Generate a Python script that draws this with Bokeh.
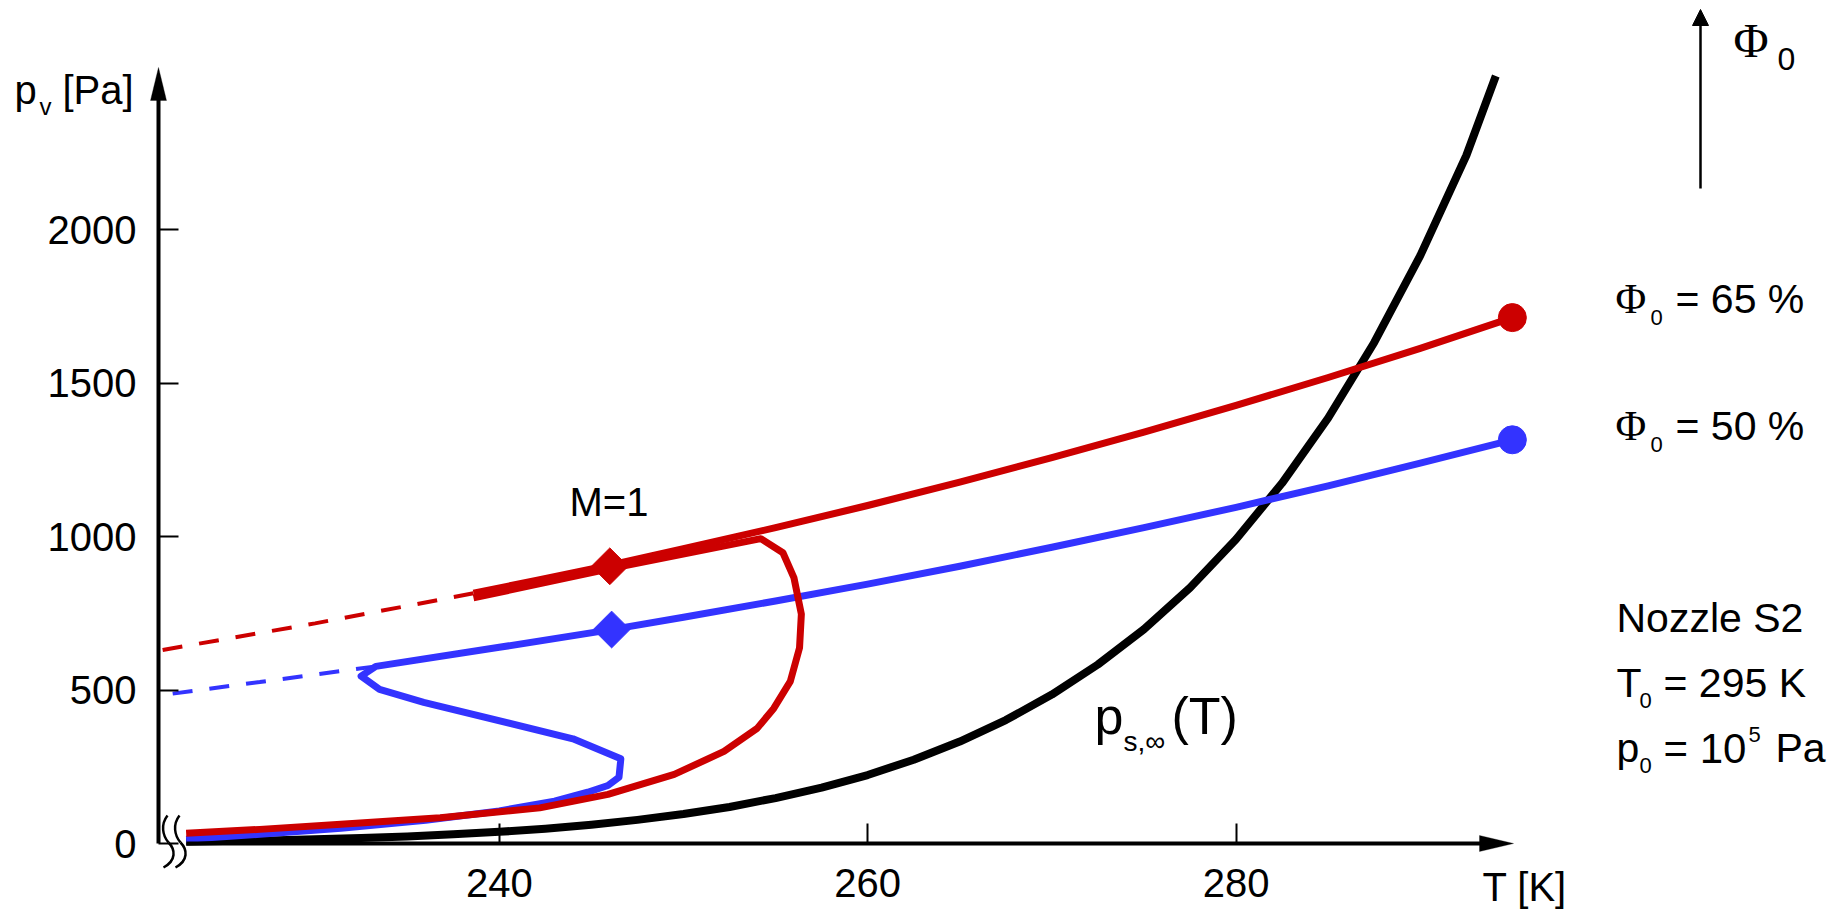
from bokeh.plotting import figure
from bokeh.models import Range1d, FixedTicker, Arrow, NormalHead, PolyAnnotation
from bokeh.core.properties import value
from bokeh.embed import file_html
from bokeh.resources import INLINE

# ---------------- data ----------------
x_ticks = [240, 260, 280]
y_ticks = [0, 500, 1000, 1500, 2000]

# saturation vapour pressure p_s,inf(T)
sat_T = [223.0, 225.0, 227.5, 230.0, 232.5, 235.0, 237.5, 240.0, 242.5, 245.0,
         247.5, 250.0, 252.5, 255.0, 257.5, 260.0, 262.5, 265.0, 267.5, 270.0,
         272.5, 275.0, 277.5, 280.0, 282.5, 285.0, 287.5, 290.0, 292.5, 294.1]
sat_p = [6, 8, 10, 14, 18, 23, 30, 38, 48, 61,
         77, 96, 119, 148, 182, 223, 273, 332, 402, 485,
         583, 698, 833, 991, 1174, 1386, 1632, 1915, 2241, 2500]

# Phi0 = 65 %  (red)
red_T = [295.0, 290.0, 285.0, 280.0, 275.0, 270.0, 265.0, 260.0, 255.0, 250.0, 246.0, 242.0, 238.6]
red_p = [1713, 1613, 1518, 1427, 1340, 1257, 1177, 1101, 1029, 960, 907, 857, 815]
red_ext_T = [238.6, 230.0, 221.5]
red_ext_p = [815, 717, 628]
red_cond_T = [238.6, 246.1, 254.2, 255.4, 256.0, 256.4, 256.3, 255.8, 254.9, 254.0,
              252.2, 249.5, 245.9, 242.2, 236.8, 231.4, 227.0, 223.0]
red_cond_p = [800, 896, 993, 947, 865, 747, 637, 528, 440, 375,
              300, 225, 160, 116, 84, 63, 46, 33]

# Phi0 = 50 %  (blue)
blue_T = [295.0, 290.0, 285.0, 280.0, 275.0, 270.0, 265.0, 260.0, 255.0, 250.0, 246.0, 240.0,
          233.3, 232.5, 233.5, 235.9, 244.0, 246.6, 246.5, 245.9, 244.8, 243.0, 240.0, 236.0,
          231.4, 227.0, 223.0]
blue_p = [1315, 1239, 1165, 1095, 1029, 965, 903, 845, 790, 737, 696, 639,
          577, 545, 502, 460, 341, 276, 216, 189, 167, 138, 106, 76,
          50, 30, 14]
blue_ext_T = [233.3, 227.0, 221.5]
blue_ext_p = [577, 526, 482]

# M = 1 points and stagnation points
m1_T = [246.0, 246.1]
m1_p = [903, 697]
m1_color = ["#cc0000", "#3333ff"]
T0_list = [295.0, 295.0]
p0_list = [1713, 1315]
dot_color = ["#cc0000", "#3333ff"]

RED = "#cc0000"
BLUE = "#3333ff"

# ---------------- geometry ----------------
W, H = 1841, 912
FL = 158          # y-axis position (px)
FB = 843          # x-axis position (px)
PXK = 18.42       # px per K
PXP = 0.307       # px per Pa
X0 = 221.5        # T at the y-axis


def X(px):
    return X0 + (px - FL) / PXK


def Y(py):
    return (FB - py) / PXP


p = figure(width=W, height=H,
           x_range=Range1d(X(0), X(W)),
           y_range=Range1d(Y(H), Y(0)),
           output_backend="svg", toolbar_location=None,
           min_border_left=0, min_border_right=0, min_border_top=0,
           min_border_bottom=0)
p.grid.visible = False
p.outline_line_color = None
p.background_fill_color = "white"
p.border_fill_color = "white"

FONT = "Liberation Sans"
SERIF = "Liberation Serif"

xa = p.xaxis[0]
xa.fixed_location = 0
xa.ticker = FixedTicker(ticks=x_ticks)
xa.bounds = (223.0, 294.0)
xa.axis_line_width = 4
xa.axis_line_color = "black"
xa.major_tick_in = 20
xa.major_tick_out = 0
xa.major_tick_line_width = 2
xa.minor_tick_line_color = None
xa.major_label_text_font = FONT
xa.major_label_text_font_size = "40px"
xa.major_label_text_color = "black"
xa.major_label_standoff = 25

ya = p.yaxis[0]
ya.fixed_location = X0
ya.ticker = FixedTicker(ticks=y_ticks)
ya.bounds = (0, 2485)
ya.axis_line_width = 4
ya.axis_line_color = "black"
ya.major_tick_in = 20
ya.major_tick_out = 0
ya.major_tick_line_width = 2
ya.minor_tick_line_color = None
ya.major_label_text_font = FONT
ya.major_label_text_font_size = "40px"
ya.major_label_text_color = "black"
ya.major_label_standoff = 22

# ---------------- curves ----------------
p.line(sat_T, sat_p, line_color="black", line_width=8, line_join="round")

p.line(blue_ext_T, blue_ext_p, line_color=BLUE, line_width=4, line_dash="20 17")
p.line(blue_T, blue_p, line_color=BLUE, line_width=7, line_join="round")

p.line(red_ext_T, red_ext_p, line_color=RED, line_width=4, line_dash="20 17")
p.line(red_cond_T, red_cond_p, line_color=RED, line_width=7, line_join="round")
p.line(red_T, red_p, line_color=RED, line_width=7, line_join="round")

p.scatter(m1_T, m1_p, marker="square", angle=0.7854, size=26,
          fill_color=m1_color, line_color=m1_color)
p.scatter(T0_list, p0_list, marker="circle", size=28,
          fill_color=dot_color, line_color=dot_color)

# ---------------- axis break marks (decoration) ----------------
for dx in (0, 12):
    p.bezier(x0=[X(167 + dx)], y0=[Y(815)], x1=[X(168 + dx)], y1=[Y(842)],
             cx0=[X(160 + dx)], cy0=[Y(824)], cx1=[X(162 + dx)], cy1=[Y(835)],
             line_color="black", line_width=2.5)
    p.bezier(x0=[X(168 + dx)], y0=[Y(842)], x1=[X(163 + dx)], y1=[Y(867)],
             cx0=[X(175 + dx)], cy0=[Y(849)], cx1=[X(176 + dx)], cy1=[Y(860)],
             line_color="black", line_width=2.5)

# ---------------- axis arrow heads ----------------
p.add_layout(PolyAnnotation(xs=[X(1479), X(1513), X(1479)], ys=[Y(835), Y(843), Y(851)],
                            fill_color="black", fill_alpha=1, line_color="black", line_width=1))
p.add_layout(PolyAnnotation(xs=[X(150), X(158), X(166)], ys=[Y(100), Y(67), Y(100)],
                            fill_color="black", fill_alpha=1, line_color="black", line_width=1))

# Phi0 arrow (top right)
p.add_layout(Arrow(end=NormalHead(size=16, fill_color="black", line_color="black", line_width=1),
                   x_start=X(1700), y_start=Y(188), x_end=X(1700), y_end=Y(9),
                   line_color="black", line_width=2.5))


# ---------------- texts ----------------
# (px, py) = left end of the baseline; the text is anchored at its vertical middle
def txt(px, py, s, size, font=FONT):
    mid = py - 0.345 * size
    p.text(x=[X(px)], y=[Y(mid)], text=[s], text_font=value(font),
           text_font_size=value(f"{size}px"), text_color="black",
           text_baseline="middle", text_align="left")


# y-axis title p_v [Pa]
txt(14, 103, "p", 40)
txt(39, 114, "v", 24)
txt(62, 103, "[Pa]", 40)

# x-axis title
txt(1482, 900, "T [K]", 40)

# M=1
txt(569, 515, "M=1", 40)

# p_s,inf(T)
txt(1094, 733, "p", 52)
txt(1123, 751, "s,\u221e", 28)
txt(1171, 733, "(T)", 52)

# top-right Phi0
txt(1733, 57, "\u03a6", 48, SERIF)
txt(1777, 70, "0", 32)

# Phi0 = 65 %
txt(1615, 313, "\u03a6", 42, SERIF)
txt(1650, 325, "0", 22)
txt(1675, 313, "= 65 %", 41)

# Phi0 = 50 %
txt(1615, 440, "\u03a6", 42, SERIF)
txt(1650, 452, "0", 22)
txt(1675, 440, "= 50 %", 41)

# Nozzle info
txt(1616, 632, "Nozzle S2", 41)
txt(1616, 697, "T", 41)
txt(1639, 708, "0", 22)
txt(1663, 697, "= 295 K", 41)
txt(1616, 762, "p", 41)
txt(1639, 773, "0", 22)
txt(1663, 762, "= 10", 42)
txt(1748, 742, "5", 22)
txt(1775, 762, "Pa", 41)

open("out.html", "w").write(file_html(p, INLINE))
